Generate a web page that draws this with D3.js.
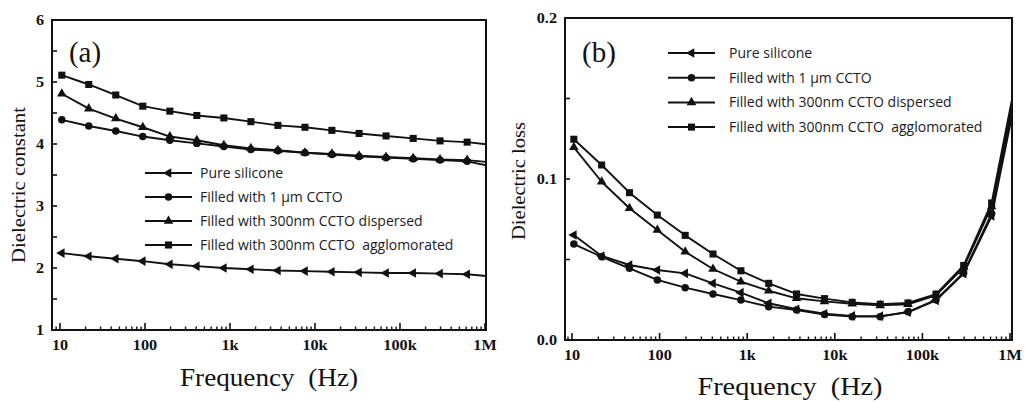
<!DOCTYPE html>
<html>
<head>
<meta charset="utf-8">
<script src="https://cdn.jsdelivr.net/npm/d3@7"></script>
<style>
  html, body { margin: 0; padding: 0; background: #ffffff; }
  svg { display: block; }
</style>
</head>
<body>
<svg id="chart" width="1029" height="403"></svg>
<script>
// Measurement frequencies (Hz), logarithmic sweep
const frequencyHz = [10.5, 21.8, 45.3, 94.2, 196, 407, 847, 1760, 3660, 7620,
                     15800, 33000, 68500, 143000, 296000, 617000, 1280000];

const seriesNames = [
  "Pure silicone",
  "Filled with 1 \u00b5m CCTO",
  "Filled with 300nm CCTO dispersed",
  "Filled with 300nm CCTO  agglomorated"
];

// (a) dielectric constant
const constPure     = [2.24, 2.19, 2.15, 2.11, 2.06, 2.03, 2.00, 1.98, 1.96, 1.95, 1.94, 1.93, 1.92, 1.92, 1.91, 1.90, 1.86];
const constMicron   = [4.39, 4.29, 4.21, 4.12, 4.06, 4.01, 3.96, 3.91, 3.89, 3.86, 3.83, 3.80, 3.78, 3.76, 3.74, 3.72, 3.63];
const constNanoDisp = [4.81, 4.57, 4.41, 4.27, 4.12, 4.06, 3.98, 3.93, 3.90, 3.86, 3.84, 3.81, 3.79, 3.77, 3.75, 3.74, 3.70];
const constNanoAgg  = [5.11, 4.96, 4.79, 4.61, 4.53, 4.46, 4.42, 4.36, 4.30, 4.27, 4.22, 4.17, 4.13, 4.09, 4.05, 4.03, 3.98];

// (b) dielectric loss
const lossPure     = [0.0652, 0.0522, 0.0466, 0.0435, 0.0414, 0.0352, 0.0294, 0.0228, 0.0191, 0.0163, 0.0150, 0.0148, 0.0172, 0.0246, 0.0412, 0.0770, 0.1618];
const lossMicron   = [0.0596, 0.0517, 0.0445, 0.0373, 0.0325, 0.0286, 0.0248, 0.0207, 0.0186, 0.0158, 0.0145, 0.0145, 0.0175, 0.0250, 0.0418, 0.0785, 0.1656];
const lossNanoDisp = [0.1197, 0.0983, 0.0818, 0.0683, 0.0548, 0.0441, 0.0362, 0.0306, 0.0259, 0.0240, 0.0225, 0.0215, 0.0222, 0.0278, 0.0452, 0.0830, 0.1693];
const lossNanoAgg  = [0.1247, 0.1087, 0.0915, 0.0776, 0.0650, 0.0534, 0.0430, 0.0352, 0.0286, 0.0257, 0.0234, 0.0222, 0.0230, 0.0285, 0.0463, 0.0851, 0.1727];

const freqTicks = [10, 100, 1e3, 1e4, 1e5, 1e6];
const freqTickLabels = ["10", "100", "1k", "10k", "100k", "1M"];
const constTicks = [1, 2, 3, 4, 5, 6];
const constTickLabels = ["1", "2", "3", "4", "5", "6"];
const lossTicks = [0, 0.1, 0.2];
const lossTickLabels = ["0.0", "0.1", "0.2"];

// marker shape per series
const markerKinds = ["triangleLeft", "circle", "triangleUp", "square"];

const svg = d3.select("#chart");
const SERIF = "'Liberation Serif', 'Times New Roman', serif";
const SANS = "'Open Sans', 'Liberation Sans', sans-serif";

const panels = [
  {
    key: "a", letter: "(a)", yTitle: "Dielectric constant",
    series: [constPure, constMicron, constNanoDisp, constNanoAgg],
    yTicks: constTicks, yTickLabels: constTickLabels, yDomain: [1, 6],
    box: { left: 52, right: 486, top: 20, bottom: 330 },
    xDomain: [8.05, 1.028e6],
    letterPos: [85, 62], yTitlePos: [25, 185], yTitleLen: 156,
    xTitlePos: [269, 386], xTitleLen: 178, xLabelDy: 20,
    legend: { x0: 145, x1: 192, textX: 200, top: 173, gap: 24 }
  },
  {
    key: "b", letter: "(b)", yTitle: "Dielectric loss",
    series: [lossPure, lossMicron, lossNanoDisp, lossNanoAgg],
    yTicks: lossTicks, yTickLabels: lossTickLabels, yDomain: [0, 0.2],
    box: { left: 565, right: 1012, top: 18, bottom: 340 },
    xDomain: [8.32, 1.054e6],
    letterPos: [599, 62], yTitlePos: [525, 181], yTitleLen: 118,
    xTitlePos: [790, 395], xTitleLen: 185, xLabelDy: 20,
    legend: { x0: 668, x1: 715, textX: 729, top: 53, gap: 24.7 }
  }
];

function markerPath(kind) {
  if (kind === "circle") return d3.symbol().type(d3.symbolCircle).size(44)();
  if (kind === "square") return d3.symbol().type(d3.symbolSquare).size(50)();
  return d3.symbol().type(d3.symbolTriangle).size(40)();
}
function markerRotation(kind) {
  return kind === "triangleLeft" ? -90 : 0;
}

// text with a horizontal stretch, drawn around its anchor point
function stretchedText(g, x, y, str, opts) {
  return g.append("text")
    .attr("transform", `translate(${x},${y}) scale(${opts.sx || 1},1)`)
    .attr("font-family", opts.family)
    .attr("font-size", opts.size)
    .attr("font-weight", opts.weight || "normal")
    .attr("text-anchor", opts.anchor || "start")
    .attr("fill", opts.fill || "#111")
    .text(str);
}

panels.forEach(p => {
  const g = svg.append("g").attr("class", "panel-" + p.key);
  const b = p.box;

  const x = d3.scaleLog().domain(p.xDomain).range([b.left, b.right]);
  const y = d3.scaleLinear().domain(p.yDomain).range([b.bottom, b.top]);

  const clipId = "clip-" + p.key;
  svg.append("defs").append("clipPath").attr("id", clipId)
    .append("rect")
    .attr("x", b.left).attr("y", b.top)
    .attr("width", b.right - b.left).attr("height", b.bottom - b.top);

  // inward x ticks: decades (major) and 2..9 (minor)
  const minorX = [];
  for (let e = 0; e <= 6; e++) {
    for (let k = 2; k <= 9; k++) {
      const v = k * Math.pow(10, e);
      if (v >= p.xDomain[0] && v <= p.xDomain[1]) minorX.push(v);
    }
  }
  g.selectAll(".xminor").data(minorX).enter().append("line")
    .attr("x1", d => x(d)).attr("x2", d => x(d))
    .attr("y1", b.bottom).attr("y2", b.bottom - 3.5)
    .attr("stroke", "#111").attr("stroke-width", 1.4);
  g.selectAll(".xmajor").data(freqTicks).enter().append("line")
    .attr("x1", d => x(d)).attr("x2", d => x(d))
    .attr("y1", b.bottom).attr("y2", b.bottom - 7)
    .attr("stroke", "#111").attr("stroke-width", 1.6);

  freqTicks.forEach((t, i) => {
    stretchedText(g, x(t), b.bottom + p.xLabelDy, freqTickLabels[i],
      { family: SERIF, size: 15, weight: "bold", anchor: "middle", sx: 1.08 });
  });

  // inward y ticks: labelled majors plus midpoints
  const yMinor = d3.pairs(p.yTicks).map(([a, c]) => (a + c) / 2);
  g.selectAll(".ytick").data(p.yTicks.concat(yMinor)).enter().append("line")
    .attr("x1", b.left).attr("x2", b.left + 5)
    .attr("y1", d => y(d)).attr("y2", d => y(d))
    .attr("stroke", "#111").attr("stroke-width", 1.6);
  p.yTicks.forEach((t, i) => {
    stretchedText(g, b.left - 8, y(t) + 5, p.yTickLabels[i],
      { family: SERIF, size: 15, weight: "bold", anchor: "end", sx: 1.08 });
  });

  // data lines and markers
  const plot = g.append("g").attr("clip-path", `url(#${clipId})`);
  p.series.forEach((vals, si) => {
    const pts = frequencyHz.map((f, i) => [f, vals[i]]);
    plot.append("path")
      .datum(pts)
      .attr("fill", "none")
      .attr("stroke", "#111")
      .attr("stroke-width", 1.9)
      .attr("stroke-linejoin", "round")
      .attr("d", d3.line().x(d => x(d[0])).y(d => y(d[1])));
    const kind = markerKinds[si];
    plot.selectAll(".m" + si).data(pts).enter().append("path")
      .attr("d", markerPath(kind))
      .attr("transform", d => `translate(${x(d[0])},${y(d[1])}) rotate(${markerRotation(kind)})`)
      .attr("fill", "#111");
  });

  // frame
  g.append("rect")
    .attr("x", b.left).attr("y", b.top)
    .attr("width", b.right - b.left).attr("height", b.bottom - b.top)
    .attr("fill", "none").attr("stroke", "#111").attr("stroke-width", 2);

  // legend
  const L = p.legend;
  seriesNames.forEach((name, si) => {
    const ry = L.top + si * L.gap;
    const lg = g.append("g");
    lg.append("line")
      .attr("x1", L.x0).attr("x2", L.x1).attr("y1", ry).attr("y2", ry)
      .attr("stroke", "#111").attr("stroke-width", 2);
    const kind = markerKinds[si];
    lg.append("path")
      .attr("d", markerPath(kind))
      .attr("transform", `translate(${(L.x0 + L.x1) / 2},${ry}) rotate(${markerRotation(kind)})`)
      .attr("fill", "#111");
    lg.append("text")
      .attr("x", L.textX).attr("y", ry + 5)
      .attr("font-family", SANS).attr("font-size", 14)
      .attr("fill", "#1c1a24")
      .attr("xml:space", "preserve")
      .style("white-space", "pre")
      .text(name);
  });

  // panel letter
  g.append("text")
    .attr("x", p.letterPos[0]).attr("y", p.letterPos[1])
    .attr("font-family", SERIF).attr("font-size", 29)
    .attr("text-anchor", "middle").attr("fill", "#111")
    .text(p.letter);

  // axis titles
  g.append("text")
    .attr("transform", `translate(${p.yTitlePos[0]},${p.yTitlePos[1]}) rotate(-90)`)
    .attr("font-family", SERIF).attr("font-size", 19)
    .attr("text-anchor", "middle").attr("fill", "#111")
    .attr("textLength", p.yTitleLen).attr("lengthAdjust", "spacingAndGlyphs")
    .text(p.yTitle);
  g.append("text")
    .attr("x", p.xTitlePos[0]).attr("y", p.xTitlePos[1])
    .attr("font-family", SERIF).attr("font-size", 25)
    .attr("text-anchor", "middle").attr("fill", "#111")
    .attr("textLength", p.xTitleLen).attr("lengthAdjust", "spacingAndGlyphs")
    .style("white-space", "pre")
    .text("Frequency  (Hz)");
});
</script>
</body>
</html>
